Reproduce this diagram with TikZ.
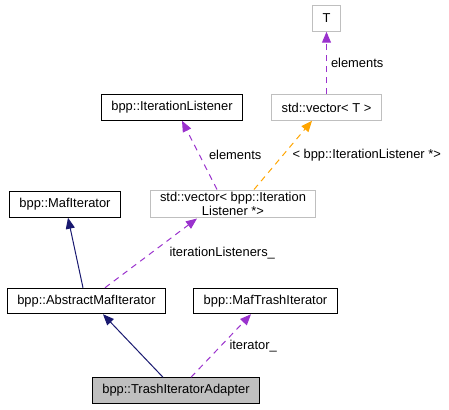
\documentclass[tikz,border=0pt]{standalone}
\usepackage{fontspec}
\setmainfont{Liberation Sans}
\usepackage{tikz}
\usetikzlibrary{arrows.meta, positioning}

\definecolor{edgeblue}{HTML}{191970}
\definecolor{edgepurple}{HTML}{9A32CD}
\definecolor{edgeorange}{HTML}{FFA500}
\definecolor{boxgray}{HTML}{BFBFBF}

\begin{document}
\begin{tikzpicture}[
        x=1pt, y=-1pt,
        every node/.style={font=\fontsize{12.9}{14.5}\selectfont},
        box/.style={draw=black, line width=1pt, minimum height=25.5pt, inner xsep=10pt, inner ysep=2pt, align=center},
        tmpl/.style={box, draw=boxgray},
        lbl/.style={inner sep=1pt},
        inherit/.style={draw=edgeblue, line width=1pt, -{Triangle[length=11pt, width=9pt]}},
        uses/.style={draw=edgepurple, line width=1pt, dash pattern=on 6pt off 5pt, -{Triangle[length=11pt, width=9pt]}},
        tmplof/.style={draw=edgeorange, line width=1pt, dash pattern=on 6pt off 5pt, -{Triangle[length=11pt, width=9pt]}}
    ]
        \useasboundingbox (0,0) rectangle (449,409);

        \node[tmpl] (T) at (326.5,18.5) {T};
        \node[tmpl] (vecT) at (326.5,107.5) {std::vector< T >};
        \node[box] (listener) at (172,107.5) {bpp::IterationListener};
        \node[tmpl] (vecL) at (233,204) {std::vector< bpp::Iteration\\Listener *>};
        \node[box] (maf) at (65,204.5) {bpp::MafIterator};
        \node[box] (absmaf) at (86.5,301) {bpp::AbstractMafIterator};
        \node[box] (trash) at (265.5,301) {bpp::MafTrashIterator};
        \node[box, fill=boxgray] (adapter) at (176,390.5) {bpp::TrashIteratorAdapter};

        \draw[uses] (vecT.north) -- node[lbl, right=3pt] {elements} (vecT.north |- T.south);
        \draw[uses] ([xshift=-16pt]vecL.north) -- node[lbl, right=8pt] {elements} ([xshift=10pt]listener.south);
        \draw[tmplof] ([xshift=21pt]vecL.north) -- node[lbl, right=8pt] {< bpp::IterationListener *>} ([xshift=-14.5pt]vecT.south);
        \draw[inherit] ([xshift=-3.5pt]absmaf.north) -- ([xshift=3pt]maf.south);
        \draw[uses] ([xshift=18.5pt]absmaf.north) -- node[lbl, right=17pt] {iterationListeners\_} ([xshift=-36pt]vecL.south);
        \draw[inherit] ([xshift=-13pt]adapter.north) -- ([xshift=16.5pt]absmaf.south);
        \draw[uses] ([xshift=15pt]adapter.north) -- node[lbl, right=7pt] {iterator\_} ([xshift=-14.5pt]trash.south);
    \end{tikzpicture}
\end{document}
